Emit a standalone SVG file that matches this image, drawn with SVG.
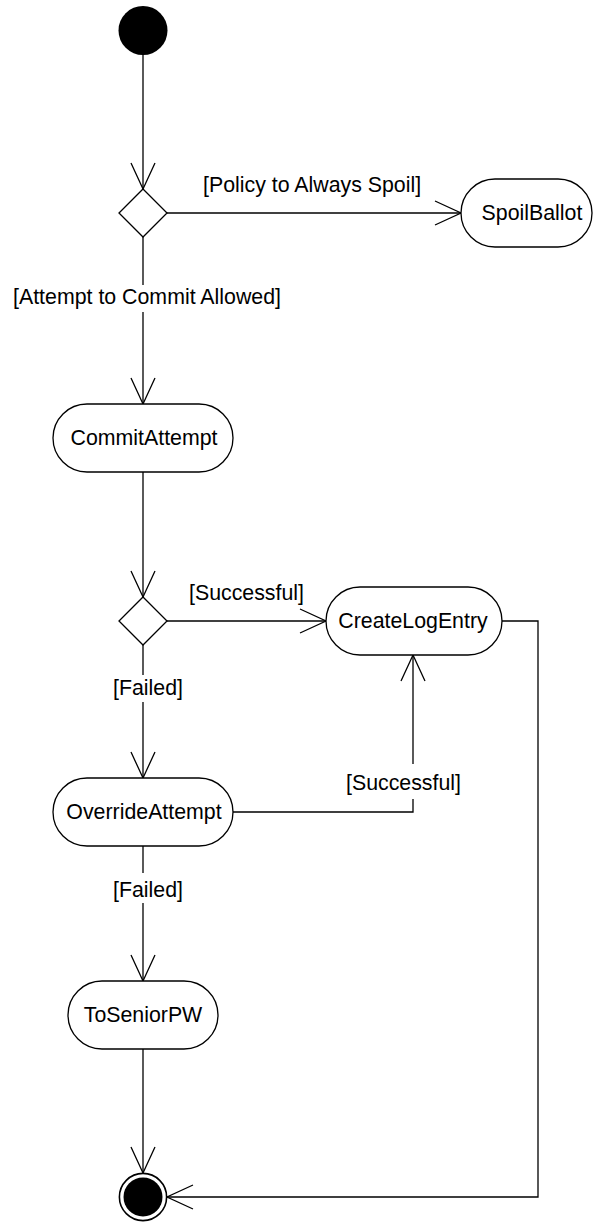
<svg xmlns="http://www.w3.org/2000/svg" width="595" height="1224" viewBox="0 0 595 1224">
<style>
.n{fill:#fff;stroke:#000;stroke-width:1.3}
.t{font-family:"Liberation Sans",Arial,sans-serif;font-size:21.33px;fill:#000}
.c{fill:none;stroke:#000;stroke-width:1.3}
</style>
<defs>
<marker id="arr" markerUnits="userSpaceOnUse" markerWidth="28" markerHeight="26" refX="26" refY="12" orient="auto" overflow="visible">
<path d="M0,0 L26,12 L0,24" fill="none" stroke="#000" stroke-width="1.3"/>
</marker>
</defs>
<rect width="595" height="1224" fill="#fff"/>
<g id="connectors">
<path class="c" d="M143,54.5 V189" marker-end="url(#arr)"/>
<path class="c" d="M167,213 H461" marker-end="url(#arr)"/>
<path class="c" d="M143,237 V285"/>
<path class="c" d="M143,312 V404" marker-end="url(#arr)"/>
<path class="c" d="M143,472 V597" marker-end="url(#arr)"/>
<path class="c" d="M167,621 H326" marker-end="url(#arr)"/>
<path class="c" d="M143,645 V675"/>
<path class="c" d="M143,702 V778" marker-end="url(#arr)"/>
<path class="c" d="M233,812 H413 V799"/>
<path class="c" d="M413,764 V655" marker-end="url(#arr)"/>
<path class="c" d="M143,846 V873"/>
<path class="c" d="M143,903 V981" marker-end="url(#arr)"/>
<path class="c" d="M143,1049 V1173" marker-end="url(#arr)"/>
<path class="c" d="M502,621 H538 V1197 H167" marker-end="url(#arr)"/>
<text class="t" x="203" y="192">[Policy to Always Spoil]</text>
<text class="t" x="147" y="304" text-anchor="middle">[Attempt to Commit Allowed]</text>
<text class="t" x="189" y="600">[Successful]</text>
<text class="t" x="113" y="695">[Failed]</text>
<text class="t" x="346" y="790">[Successful]</text>
<text class="t" x="113" y="897">[Failed]</text>
</g>
<g id="start">
<circle cx="143" cy="30.5" r="24.5" fill="#000"/>
</g>
<g id="decision1">
<polygon class="n" points="143,189 167,213 143,237 119,213"/>
</g>
<g id="SpoilBallot">
<rect class="n" x="461" y="179" width="131" height="68" rx="34" ry="34"/>
<text class="t" x="532" y="220" text-anchor="middle">SpoilBallot</text>
</g>
<g id="CommitAttempt">
<rect class="n" x="53" y="404" width="180" height="68" rx="34" ry="34"/>
<text class="t" x="144" y="445" text-anchor="middle">CommitAttempt</text>
</g>
<g id="decision2">
<polygon class="n" points="143,597 167,621 143,645 119,621"/>
</g>
<g id="CreateLogEntry">
<rect class="n" x="326" y="587" width="176" height="68" rx="34" ry="34"/>
<text class="t" x="413" y="628" text-anchor="middle">CreateLogEntry</text>
</g>
<g id="OverrideAttempt">
<rect class="n" x="53" y="778" width="180" height="68" rx="34" ry="34"/>
<text class="t" x="144" y="819" text-anchor="middle">OverrideAttempt</text>
</g>
<g id="ToSeniorPW">
<rect class="n" x="68" y="981" width="150" height="68" rx="34" ry="34"/>
<text class="t" x="143" y="1022" text-anchor="middle">ToSeniorPW</text>
</g>
<g id="final">
<circle cx="143" cy="1197" r="23.6" fill="#fff" stroke="#000" stroke-width="1.6"/>
<circle cx="143" cy="1197" r="19.5" fill="#000"/>
</g>
</svg>
